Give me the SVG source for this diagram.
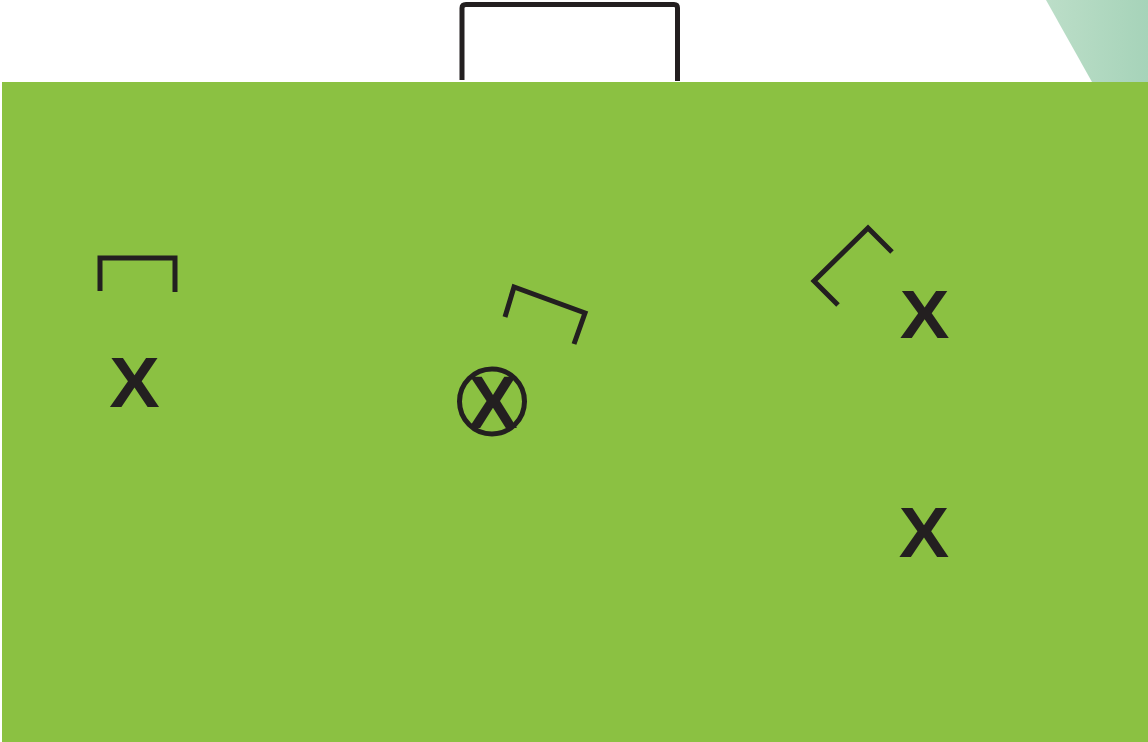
<svg xmlns="http://www.w3.org/2000/svg" width="1148" height="742" viewBox="0 0 1148 742">
<defs>
<linearGradient id="teal" x1="0" y1="0" x2="1" y2="0">
<stop offset="0" stop-color="#BCDEC8"/>
<stop offset="1" stop-color="#A6D3B9"/>
</linearGradient>
</defs>
<style>
.ln{fill:none;stroke:#231F20;stroke-width:5;stroke-linejoin:miter;stroke-linecap:butt}
.x{font-family:"Liberation Sans",Arial,sans-serif;font-weight:bold;fill:#231F20;text-anchor:middle}
</style>
<rect x="0" y="0" width="1148" height="742" fill="#FFFFFF"/>
<polygon points="1046,0 1148,0 1148,82 1092,82" fill="url(#teal)"/>
<rect id="field" x="2" y="82" width="1146" height="660" fill="#8BC142"/>
<g id="goal"><path class="ln" d="M462,80 V8 Q462,4.5 466,4.5 H674 Q677.5,4.5 677.5,8 V81" /></g>
<g id="minigoal-left"><path class="ln" d="M100,291 V258 H175 V292"/></g>
<g id="minigoal-center"><path class="ln" d="M505,317 L514,287 L585,313 L574,344"/></g>
<g id="minigoal-right"><path class="ln" d="M892,252 L868,228 L814,281 L838,305"/></g>
<g id="player-left"><text class="x" x="134.5" y="407" font-size="70" transform="translate(134.5,0) scale(1.08,1) translate(-134.5,0)">X</text></g>
<g id="player-right-top"><text class="x" x="924.5" y="338" font-size="69" transform="translate(924.5,0) scale(1.08,1) translate(-924.5,0)">X</text></g>
<g id="player-right-bottom"><text class="x" x="924" y="557" font-size="70" transform="translate(924,0) scale(1.08,1) translate(-924,0)">X</text></g>
<g id="player-center"><circle cx="492" cy="401.5" r="32.5" fill="none" stroke="#231F20" stroke-width="5"/><text class="x" x="493" y="428" font-size="74">X</text></g>
<g id="connectors"></g>
</svg>
